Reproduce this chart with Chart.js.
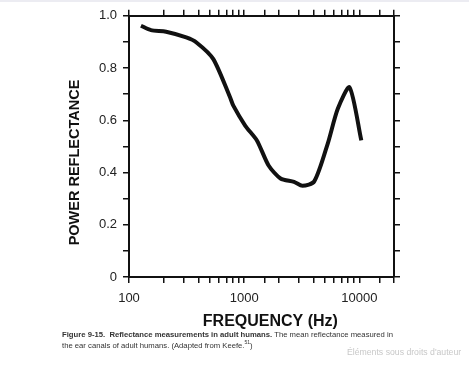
<!DOCTYPE html>
<html>
<head>
<meta charset="utf-8">
<script src="https://cdn.jsdelivr.net/npm/chart.js@4"></script>
<style>
  html, body { margin: 0; padding: 0; background: #fff; }
  #wrap { position: relative; width: 469px; height: 370px; border-top: 2px solid #ececf2; box-sizing: border-box; }
  #chart { position: absolute; left: 0; top: 0; }
  .cap { position: absolute; left: 62px; font-family: "Liberation Sans", Arial, sans-serif; font-size: 7.7px; color: #333; white-space: nowrap; line-height: 1; }
  .mark { position: absolute; left: 347px; top: 346px; font-family: "Liberation Sans", Arial, sans-serif; font-size: 8.7px; color: #c8c8c8; line-height: 1; }
</style>
</head>
<body>
<div id="wrap">
  <canvas id="chart" width="469" height="368"></canvas>
  <div class="cap" style="top:329px"><b>Figure 9-15.&nbsp; Reflectance measurements in adult humans.</b> The mean reflectance measured in</div>
  <div class="cap" style="top:338px">the ear canals of adult humans. (Adapted from Keefe.<sup style="font-size:5px">51</sup>)</div>
  <div class="mark">Éléments sous droits d'auteur</div>
</div>
<script>
// mean power reflectance vs frequency
const frequencies = [127, 155, 210, 314, 385, 538, 754, 805, 1020, 1290, 1630, 2070, 2710, 3210, 4060, 5310, 6500, 8220, 10400];
const reflectance = [0.962, 0.945, 0.939, 0.917, 0.898, 0.835, 0.688, 0.656, 0.58, 0.523, 0.427, 0.377, 0.364, 0.349, 0.366, 0.51, 0.644, 0.726, 0.523];
const xLabels = [100, 1000, 10000];
const yRange = [0, 1];

const ink = '#111';
const txt = '#222';
const font = { family: '"Liberation Sans", Arial, sans-serif', size: 13 };
const pad = n => '\u00a0'.repeat(n);

const frame = {
    grid: { drawOnChartArea: false, color: ink, lineWidth: 1.5, tickLength: 6 },
    border: { color: ink, width: 2 }
};

new Chart(document.getElementById('chart').getContext('2d'), {
    type: 'line',
    data: {
        datasets: [{
            data: frequencies.map((f, i) => ({ x: f, y: reflectance[i] })),
            borderColor: ink,
            borderWidth: 4,
            pointRadius: 0,
            tension: 0.25,
            fill: false
        }]
    },
    options: {
        responsive: false,
        animation: false,
        layout: { padding: { bottom: 33 } },
        plugins: { legend: { display: false }, tooltip: { enabled: false } },
        scales: {
            x: {
                type: 'logarithmic', position: 'bottom', min: 100, max: 20000,
                ...frame,
                ticks: {
                    color: txt, font: font, padding: 8, autoSkip: false, maxRotation: 0,
                    callback: v => xLabels.includes(v) ? String(v) : ''
                },
                title: {
                    display: true, text: pad(4) + 'FREQUENCY (Hz)', color: ink,
                    font: { family: font.family, size: 16, weight: 'bold' },
                    padding: { top: 0, bottom: 6 }
                },
                afterFit: s => { s.height = 60; }
            },
            x2: {
                type: 'logarithmic', position: 'top', min: 100, max: 20000,
                ...frame,
                ticks: { autoSkip: false, callback: () => '' },
                afterFit: s => { s.height = 12; }
            },
            y: {
                type: 'linear', position: 'left', min: yRange[0], max: yRange[1],
                ...frame,
                ticks: {
                    color: txt, font: font, padding: 6, stepSize: 0.1, autoSkip: false,
                    callback: v => {
                        const t = Math.round(v * 10);
                        if (t % 2) return '';
                        return t === 0 ? '0' : (t / 10).toFixed(1);
                    }
                },
                title: {
                    display: true, text: 'POWER REFLECTANCE' + pad(8), color: ink,
                    font: { family: font.family, size: 14.5, weight: 'bold' },
                    padding: { top: 66, bottom: 0 }
                },
                afterFit: s => { s.width = 129; }
            },
            y2: {
                type: 'linear', position: 'right', min: yRange[0], max: yRange[1],
                ...frame,
                ticks: { stepSize: 0.1, callback: () => '' },
                afterFit: s => { s.width = 75; }
            }
        }
    }
});
</script>
</body>
</html>
